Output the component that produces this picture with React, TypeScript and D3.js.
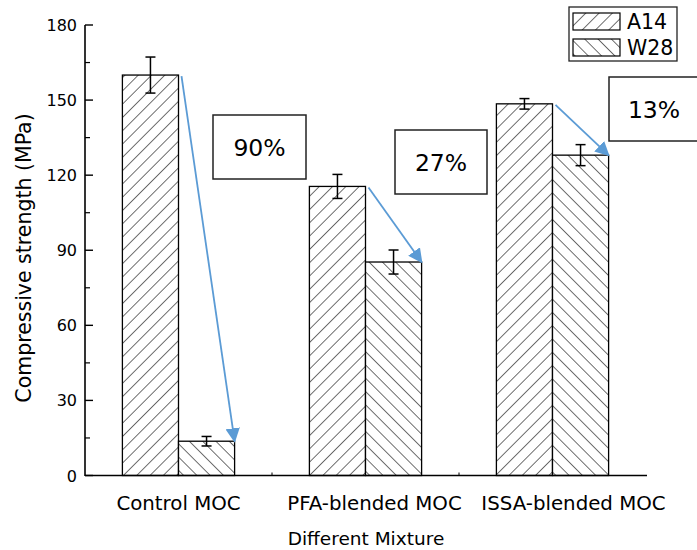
import React from "react";
import * as d3 from "d3";

const categories = ["Control MOC", "PFA-blended MOC", "ISSA-blended MOC"];
const seriesNames = ["A14", "W28"];
const a14Values = [160, 115.5, 148.5];
const a14Errors = [7.2, 4.8, 2.1];
const w28Values = [13.7, 85.3, 128];
const w28Errors = [1.9, 4.8, 4.2];
const reductionLabels = ["90%", "27%", "13%"];
const yTicks = [0, 30, 60, 90, 120, 150, 180];

const W = 697;
const H = 550;
const left = 85;
const right = 646;
const top = 25;
const bottom = 475.5;
const font = "DejaVu Sans, sans-serif";
const arrowColor = "#5B9BD5";

// annotation box placement (pixels)
const boxes = [
  { x: 213, y: 115, w: 93, h: 64 },
  { x: 395, y: 130, w: 92, h: 64 },
  { x: 609, y: 77, w: 90, h: 64 },
];
// horizontal shift of category labels relative to group centre (pixels)
const labelShift = [0, 9, 21];

export default function App() {
  const x = d3.scaleBand<string>().domain(categories).range([left, right]).paddingInner(0.4).paddingOuter(0.2);
  const xs = d3.scaleBand<string>().domain(seriesNames).range([0, x.bandwidth()]);
  const y = d3.scaleLinear().domain([0, 180]).range([bottom, top]);
  const minorTicks = d3.range(15, 180, 30);
  const series = [
    { name: "A14", values: a14Values, errors: a14Errors, pat: "url(#hatchA)" },
    { name: "W28", values: w28Values, errors: w28Errors, pat: "url(#hatchW)" },
  ];
  const boundaries = categories.slice(1).map((c) => (x(c) as number) - (x.step() * x.paddingInner()) / 2);

  return (
    <svg width={W} height={H} style={{ position: "absolute", left: 0, top: 0, background: "#fff" }}>
      <defs>
        <pattern id="hatchA" patternUnits="userSpaceOnUse" width={9.4} height={9.4} patternTransform="rotate(45)">
          <rect width={9.4} height={9.4} fill="#fff" />
          <line x1={0} y1={0} x2={0} y2={9.4} stroke="#222" strokeWidth={1.3} />
        </pattern>
        <pattern id="hatchW" patternUnits="userSpaceOnUse" width={9.4} height={9.4} patternTransform="rotate(-45)">
          <rect width={9.4} height={9.4} fill="#fff" />
          <line x1={0} y1={0} x2={0} y2={9.4} stroke="#222" strokeWidth={1.3} />
        </pattern>
        <marker id="arrowHead" viewBox="0 0 10 10" refX={9} refY={5} markerWidth={8} markerHeight={8} markerUnits="strokeWidth" orient="auto">
          <path d="M0,0 L10,5 L0,10 Z" fill={arrowColor} />
        </marker>
      </defs>

      {/* bars */}
      {series.map((s) =>
        categories.map((c, i) => {
          const bx = (x(c) as number) + (xs(s.name) as number);
          return (
            <rect key={s.name + c} x={bx} y={y(s.values[i])} width={xs.bandwidth()} height={y(0) - y(s.values[i])}
              fill={s.pat} stroke="#000" strokeWidth={1.3} />
          );
        })
      )}

      {/* error bars */}
      {series.map((s) =>
        categories.map((c, i) => {
          const cx = (x(c) as number) + (xs(s.name) as number) + xs.bandwidth() / 2;
          const y1 = y(s.values[i] + s.errors[i]);
          const y2 = y(s.values[i] - s.errors[i]);
          return (
            <g key={"e" + s.name + c} stroke="#000" strokeWidth={1.5}>
              <line x1={cx} x2={cx} y1={y1} y2={y2} />
              <line x1={cx - 5} x2={cx + 5} y1={y1} y2={y1} />
              <line x1={cx - 5} x2={cx + 5} y1={y2} y2={y2} />
            </g>
          );
        })
      )}

      {/* arrows */}
      {categories.map((c, i) => {
        const x1 = (x(c) as number) + (xs("A14") as number) + xs.bandwidth() + 3;
        const x2 = (x(c) as number) + (xs("W28") as number) + xs.bandwidth();
        return (
          <line key={"a" + c} x1={x1} y1={y(a14Values[i]) + 1} x2={x2} y2={y(w28Values[i])}
            stroke={arrowColor} strokeWidth={1.8} markerEnd="url(#arrowHead)" />
        );
      })}

      {/* annotation boxes */}
      {boxes.map((b, i) => (
        <g key={"b" + i}>
          <rect x={b.x} y={b.y} width={b.w} height={b.h} fill="#fff" stroke="#222" strokeWidth={1.5} />
          <text x={b.x + b.w / 2} y={b.y + b.h / 2 + 8.5} textAnchor="middle" fontFamily={font} fontSize={23.5} fill="#000">
            {reductionLabels[i]}
          </text>
        </g>
      ))}

      {/* y axis */}
      <line x1={left} x2={left} y1={top} y2={bottom + 0.5} stroke="#000" strokeWidth={1.6} />
      {yTicks.map((t) => (
        <g key={"yt" + t}>
          <line x1={left} x2={left + 8} y1={y(t)} y2={y(t)} stroke="#000" strokeWidth={1.4} />
          <text x={left - 8} y={y(t) + 6} textAnchor="end" fontFamily={font} fontSize={16} fill="#000">{t}</text>
        </g>
      ))}
      {minorTicks.map((t) => (
        <line key={"mt" + t} x1={left} x2={left + 5} y1={y(t)} y2={y(t)} stroke="#000" strokeWidth={1.2} />
      ))}
      <text transform={`translate(31,258) rotate(-90)`} textAnchor="middle" fontFamily={font} fontSize={20.5} fill="#000">
        Compressive strength (MPa)
      </text>

      {/* x axis */}
      <line x1={left} x2={right + 1} y1={bottom} y2={bottom} stroke="#000" strokeWidth={1.6} />
      {boundaries.map((b) => (
        <line key={"xb" + b} x1={b} x2={b} y1={bottom} y2={bottom - 3} stroke="#000" strokeWidth={1} />
      ))}
      {categories.map((c, i) => (
        <text key={"xl" + c} x={(x(c) as number) + x.bandwidth() / 2 + labelShift[i]} y={bottom + 34} textAnchor="middle" fontFamily={font} fontSize={19.8} fill="#000">
          {c}
        </text>
      ))}
      <text x={366} y={H - 5} textAnchor="middle" fontFamily={font} fontSize={18.5} fill="#000">
        Different Mixture
      </text>

      {/* legend */}
      <rect x={569} y={7} width={108} height={54} fill="#fff" stroke="#222" strokeWidth={1.3} />
      {series.map((s, i) => (
        <g key={"lg" + s.name}>
          <rect x={573} y={13 + i * 26} width={47} height={17} fill={s.pat} stroke="#000" strokeWidth={1.2} />
          <text x={627} y={29 + i * 26} fontFamily={font} fontSize={20.5} fill="#000">{s.name}</text>
        </g>
      ))}
    </svg>
  );
}
